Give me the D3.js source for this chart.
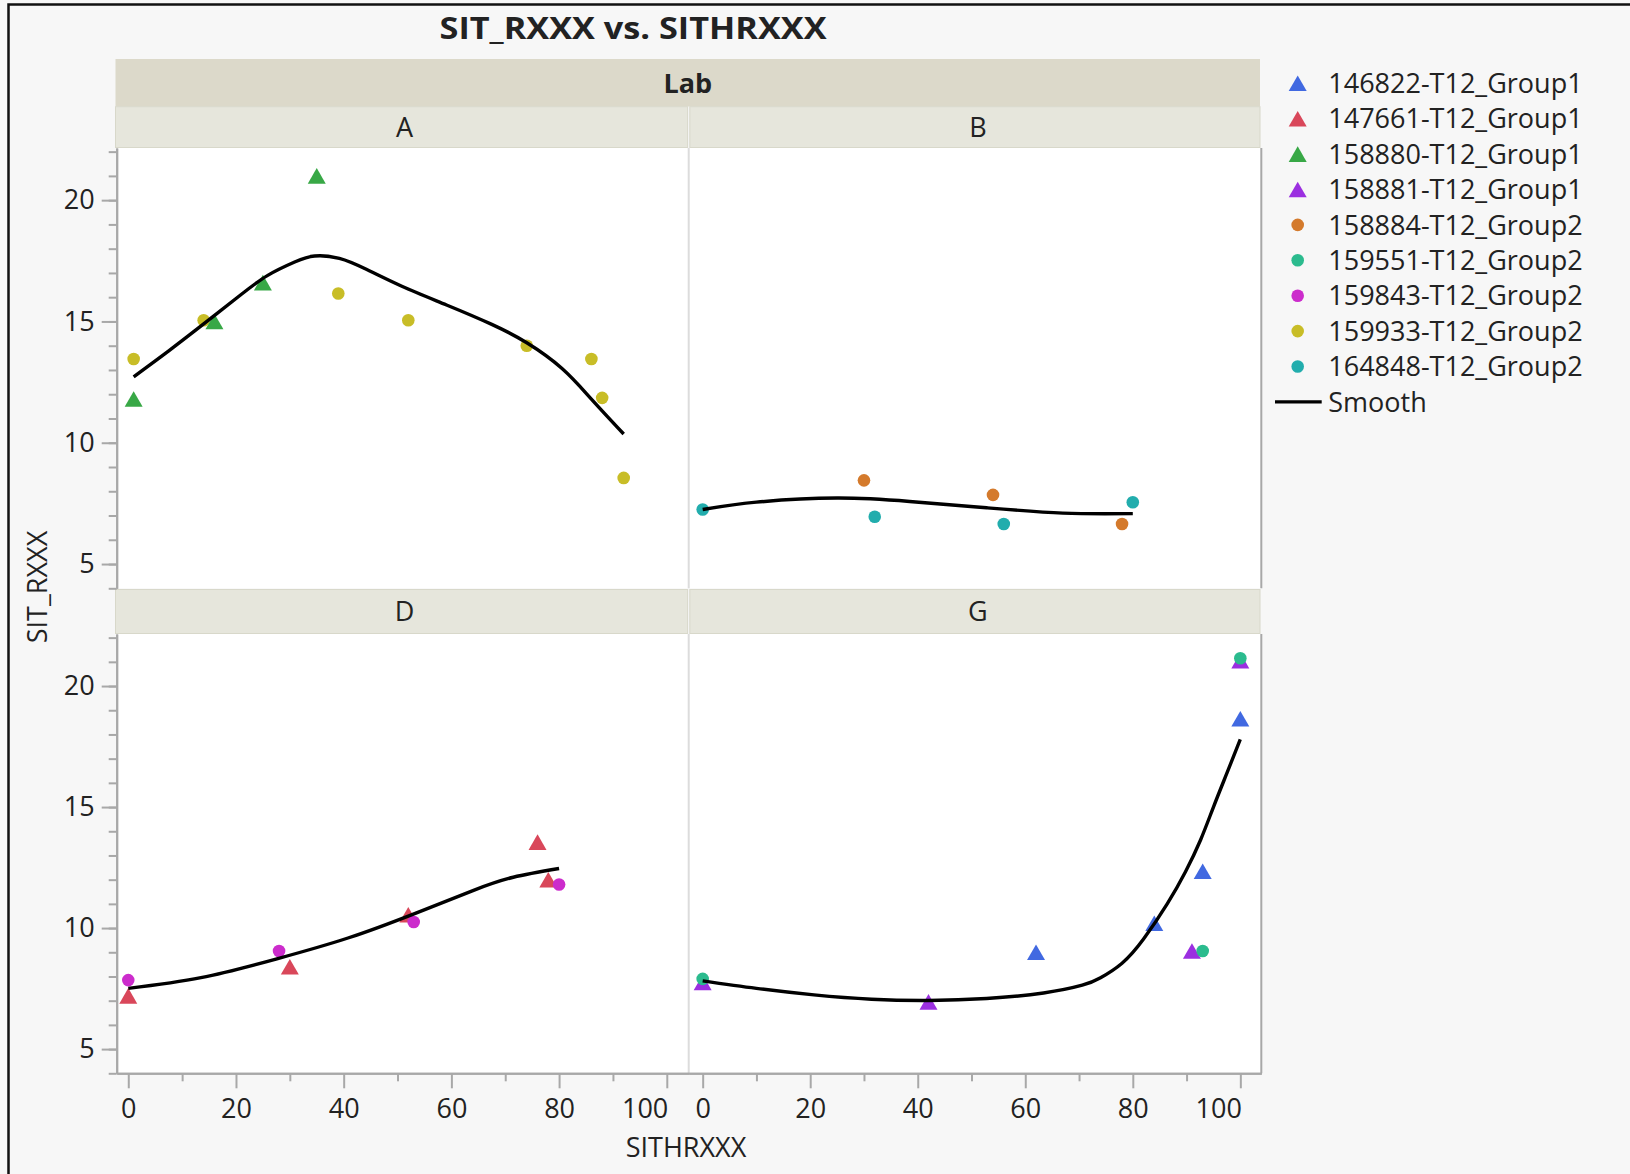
<!DOCTYPE html>
<html>
<head>
<meta charset="utf-8">
<script src="https://cdn.jsdelivr.net/npm/d3@7"></script>
<style>
  body { margin: 0; background: #f7f7f7; }
  text { font-family: "Open Sans", "Noto Sans", sans-serif; fill: #222; }
</style>
</head>
<body>
<svg id="chart" width="1630" height="1174"></svg>
<script>
// ---- data ----
const labs = ["A", "B", "D", "G"];

const seriesNames = ["146822-T12_Group1", "147661-T12_Group1", "158880-T12_Group1", "158881-T12_Group1",
  "158884-T12_Group2", "159551-T12_Group2", "159843-T12_Group2", "159933-T12_Group2", "164848-T12_Group2"];

// [series, SITHRXXX, SIT_RXXX]
const pointsA = [
  ["159933-T12_Group2", 1, 13.45], ["159933-T12_Group2", 14, 15.05], ["159933-T12_Group2", 39, 16.15],
  ["159933-T12_Group2", 52, 15.05], ["159933-T12_Group2", 74, 14.0], ["159933-T12_Group2", 86, 13.45],
  ["159933-T12_Group2", 88, 11.85], ["159933-T12_Group2", 92, 8.55],
  ["158880-T12_Group1", 1, 11.8], ["158880-T12_Group1", 16, 15.0], ["158880-T12_Group1", 25, 16.6],
  ["158880-T12_Group1", 35, 21.0]
];
const pointsB = [
  ["164848-T12_Group2", 0, 7.25], ["164848-T12_Group2", 32, 6.95], ["164848-T12_Group2", 56, 6.65],
  ["164848-T12_Group2", 80, 7.55],
  ["158884-T12_Group2", 30, 8.45], ["158884-T12_Group2", 54, 7.85], ["158884-T12_Group2", 78, 6.65]
];
const pointsD = [
  ["147661-T12_Group1", 0, 7.2], ["147661-T12_Group1", 30, 8.4], ["147661-T12_Group1", 52, 10.55],
  ["147661-T12_Group1", 76, 13.55], ["147661-T12_Group1", 78, 12.0],
  ["159843-T12_Group2", 0, 7.85], ["159843-T12_Group2", 28, 9.05], ["159843-T12_Group2", 53, 10.25],
  ["159843-T12_Group2", 80, 11.8]
];
const pointsG = [
  ["146822-T12_Group1", 62, 9.0], ["146822-T12_Group1", 84, 10.2], ["146822-T12_Group1", 93, 12.35],
  ["146822-T12_Group1", 100, 18.65],
  ["158881-T12_Group1", 0, 7.75], ["158881-T12_Group1", 42, 6.95], ["158881-T12_Group1", 91, 9.05],
  ["158881-T12_Group1", 100, 21.05],
  ["159551-T12_Group2", 0, 7.9], ["159551-T12_Group2", 93, 9.05], ["159551-T12_Group2", 100, 21.15]
];

// smoother curves
const smoothA = [[1, 12.72], [7.7, 13.82], [14.3, 14.95], [20.9, 16.1], [25.9, 16.9], [30.9, 17.45],
  [34.6, 17.7], [39.2, 17.6], [44.2, 17.15], [50.8, 16.45], [59.1, 15.68], [67.4, 14.89], [74, 14.12],
  [80.6, 13.05], [86, 11.8], [92, 10.36]];
const smoothB = [[0, 7.25], [10, 7.55], [25, 7.72], [38.5, 7.58], [52.8, 7.32], [67, 7.1], [80, 7.08]];
const smoothD = [[0, 7.51], [13.5, 7.95], [27.6, 8.73], [40.8, 9.59], [53.3, 10.61], [64, 11.55],
  [71.5, 12.1], [80, 12.46]];
const smoothG = [[0, 7.82], [10, 7.51], [20.7, 7.24], [31.4, 7.06], [42.1, 7.01], [52.8, 7.09],
  [63.4, 7.32], [70.6, 7.64], [74, 7.95], [78, 8.55], [82, 9.55], [86.4, 11.0],
  [89.8, 12.33], [92.6, 13.64], [95, 15.0], [97.5, 16.4], [100, 17.8]];

const xTicks = [0, 20, 40, 60, 80, 100];
const xMinorTicks = [10, 30, 50, 70, 90];
const yTicks = [5, 10, 15, 20];
const yMinorTicks = d3.range(4, 23);

// ---- styling ----
const colors = {
  "146822-T12_Group1": "#4169e1",
  "147661-T12_Group1": "#d9475a",
  "158880-T12_Group1": "#38a846",
  "158881-T12_Group1": "#9b2fe0",
  "158884-T12_Group2": "#d47a2c",
  "159551-T12_Group2": "#2bbb8e",
  "159843-T12_Group2": "#cc2ccc",
  "159933-T12_Group2": "#c8bd27",
  "164848-T12_Group2": "#22adad"
};
const isTriangle = name => name.endsWith("Group1");

const W = 1630, H = 1174;
const colX = [[116.7, 688.7], [688.7, 1261.3]];
const rowY = [[148, 588.3], [634, 1073.3]];
const xDomains = [[-2.15, 104.07], [-2.6, 103.9]];
const yDomain = [4, 22.15];
const triSize = 140, dotR = 6.3;
const triShift = Math.sqrt(triSize / (3 * Math.sqrt(3))) / 2;

const svg = d3.select("#chart");
svg.append("rect").attr("width", W).attr("height", H).attr("fill", "#f7f7f7");
svg.append("path")
  .attr("d", "M8.5," + H + " V4.5 H" + W)
  .attr("fill", "none").attr("stroke", "#111").attr("stroke-width", 2.5);

// title
svg.append("text")
  .attr("x", 633).attr("y", 39)
  .attr("text-anchor", "middle")
  .style("font-size", "30px").style("font-weight", "bold")
  .attr("textLength", 387).attr("lengthAdjust", "spacingAndGlyphs")
  .text("SIT_RXXX vs. SITHRXXX");

// Lab band
svg.append("rect").attr("x", 115.5).attr("y", 59).attr("width", 1260 - 115.5).attr("height", 47.5)
  .attr("fill", "#dcd9ca");
svg.append("text").attr("x", (115.5 + 1260) / 2).attr("y", 83).attr("dy", "0.36em")
  .attr("text-anchor", "middle").style("font-size", "27px").style("font-weight", "bold").text("Lab");

const xScales = colX.map((r, i) => d3.scaleLinear().domain(xDomains[i]).range(r));
const yScales = rowY.map(r => d3.scaleLinear().domain(yDomain).range([r[1], r[0]]));

const panels = [
  {lab: labs[0], row: 0, col: 0, points: pointsA, smooth: smoothA},
  {lab: labs[1], row: 0, col: 1, points: pointsB, smooth: smoothB},
  {lab: labs[2], row: 1, col: 0, points: pointsD, smooth: smoothD},
  {lab: labs[3], row: 1, col: 1, points: pointsG, smooth: smoothG}
];

panels.forEach((p, k) => {
  const x = xScales[p.col], y = yScales[p.row];
  const x0 = colX[p.col][0], x1 = colX[p.col][1];
  const y0 = rowY[p.row][0], y1 = rowY[p.row][1];

  // header band
  const hx0 = p.col === 0 ? 115.5 : 689.8;
  const hx1 = p.col === 0 ? 687.6 : 1260;
  const hy0 = p.row === 0 ? 106.7 : 589.5;
  const hy1 = p.row === 0 ? 147.5 : 633.5;
  svg.append("rect").attr("x", hx0).attr("y", hy0).attr("width", hx1 - hx0).attr("height", hy1 - hy0)
    .attr("fill", "#e6e6dc").attr("stroke", "#d8d8ca").attr("stroke-width", 1);
  svg.append("text").attr("x", (hx0 + hx1) / 2 + 3).attr("y", (hy0 + hy1) / 2).attr("dy", "0.36em")
    .attr("text-anchor", "middle").style("font-size", "27px").text(p.lab);

  // plot area
  svg.append("rect").attr("x", x0).attr("y", y0).attr("width", x1 - x0).attr("height", y1 - y0)
    .attr("fill", "#fff");

  svg.append("clipPath").attr("id", "clip" + k)
    .append("rect").attr("x", x0).attr("y", y0).attr("width", x1 - x0).attr("height", y1 - y0);

  const g = svg.append("g").attr("clip-path", "url(#clip" + k + ")");

  g.selectAll(".pt")
    .data(p.points)
    .enter().append("path")
      .attr("class", "pt")
      .attr("fill", d => colors[d[0]])
      .attr("d", d => isTriangle(d[0])
        ? d3.symbol(d3.symbolTriangle, triSize)()
        : d3.symbol(d3.symbolCircle, Math.PI * dotR * dotR)())
      .attr("transform", d => "translate(" + x(d[1]) + "," + (y(d[2]) + (isTriangle(d[0]) ? triShift : 0)) + ")");

  g.append("path")
    .datum(p.smooth)
    .attr("fill", "none")
    .attr("stroke", "#000")
    .attr("stroke-width", 3.4)
    .attr("d", d3.line()
      .x(d => x(d[0]))
      .y(d => y(d[1]))
      .curve(d3.curveNatural));
});

// frame lines of the plot grid
svg.append("line").attr("x1", 688.7).attr("x2", 688.7).attr("y1", 148).attr("y2", 588.3)
  .attr("stroke", "#dcdcdc").attr("stroke-width", 2);
svg.append("line").attr("x1", 688.7).attr("x2", 688.7).attr("y1", 634).attr("y2", 1073.3)
  .attr("stroke", "#dcdcdc").attr("stroke-width", 2);
svg.append("line").attr("x1", 1261.3).attr("x2", 1261.3).attr("y1", 148).attr("y2", 588.3)
  .attr("stroke", "#a8a8a8").attr("stroke-width", 2);
svg.append("line").attr("x1", 1261.3).attr("x2", 1261.3).attr("y1", 634).attr("y2", 1073.3)
  .attr("stroke", "#a8a8a8").attr("stroke-width", 2);

function styleAxis(sel) {
  sel.select(".domain").attr("stroke", "#a8a8a8").attr("stroke-width", 2);
  sel.selectAll(".tick line").attr("stroke", "#a8a8a8").attr("stroke-width", 2);
  sel.selectAll(".tick text").style("font-size", "27px").attr("fill", "#222");
}

// y axes
yScales.forEach(y => {
  const minor = svg.append("g").attr("transform", "translate(116.7,0)")
    .call(d3.axisLeft(y).tickValues(yMinorTicks).tickSize(8).tickFormat("").tickSizeOuter(0));
  styleAxis(minor);
  const major = svg.append("g").attr("transform", "translate(116.7,0)")
    .call(d3.axisLeft(y).tickValues(yTicks).tickSize(15).tickPadding(7).tickSizeOuter(0));
  styleAxis(major);
});

// x axes
xScales.forEach(x => {
  const minor = svg.append("g").attr("transform", "translate(0,1073.3)")
    .call(d3.axisBottom(x).tickValues(xMinorTicks).tickSize(8).tickFormat("").tickSizeOuter(0));
  styleAxis(minor);
  const major = svg.append("g").attr("transform", "translate(0,1073.3)")
    .call(d3.axisBottom(x).tickValues(xTicks).tickSize(15).tickPadding(11).tickSizeOuter(0));
  styleAxis(major);
  major.selectAll(".tick text").filter(d => d === 100).attr("text-anchor", "end").attr("x", 1);
});

// axis titles
svg.append("text").attr("x", 686).attr("y", 1157).attr("text-anchor", "middle")
  .style("font-size", "27px").text("SITHRXXX");
svg.append("text").attr("transform", "translate(47,587) rotate(-90)").attr("text-anchor", "middle")
  .style("font-size", "27px").text("SIT_RXXX");

// legend
const legend = svg.append("g");
const legendRows = seriesNames.concat(["Smooth"]);
legendRows.forEach((name, i) => {
  const cy = 83.3 + i * 35.4;
  if (name === "Smooth") {
    legend.append("line").attr("x1", 1275).attr("x2", 1321.7).attr("y1", cy).attr("y2", cy)
      .attr("stroke", "#000").attr("stroke-width", 3.4);
  } else {
    legend.append("path")
      .attr("fill", colors[name])
      .attr("d", isTriangle(name)
        ? d3.symbol(d3.symbolTriangle, triSize)()
        : d3.symbol(d3.symbolCircle, Math.PI * dotR * dotR)())
      .attr("transform", "translate(1297.7," + (cy + (isTriangle(name) ? triShift : 0)) + ")");
  }
  legend.append("text").attr("x", 1328.3).attr("y", cy).attr("dy", "0.36em")
    .style("font-size", "27px").text(name);
});
</script>
</body>
</html>
